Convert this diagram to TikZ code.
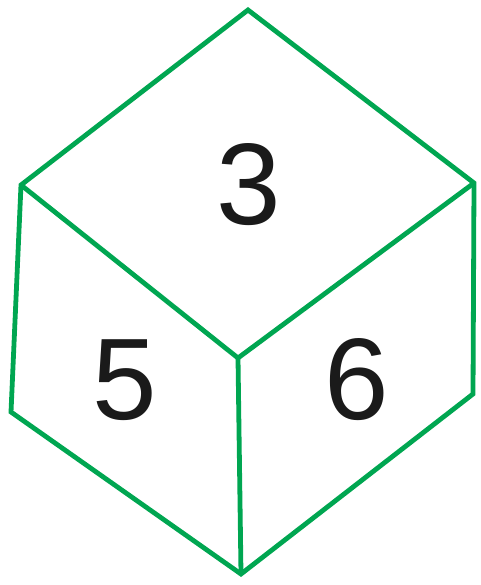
\documentclass[tikz,border=0pt]{standalone}
\usepackage{fontspec}
\setmainfont{Liberation Sans}
\definecolor{cubegreen}{RGB}{0,166,81}
\definecolor{digit}{RGB}{26,26,26}
\begin{document}
\begin{tikzpicture}[x=1pt,y=-1pt,
  edge/.style={draw=cubegreen,line width=4.8pt,line join=miter},
  face/.style={font=\fontsize{116}{116}\selectfont,text=digit,inner sep=0pt,anchor=center}]
\useasboundingbox (0,0) rectangle (480,585);
\coordinate (T) at (248,10);
\coordinate (LT) at (21,185);
\coordinate (RT) at (474,183);
\coordinate (C) at (238,358);
\coordinate (LB) at (11,412);
\coordinate (B) at (241,574);
\coordinate (RB) at (473,394);
\draw[edge] (T) -- (RT) -- (RB) -- (B) -- (LB) -- (LT) -- cycle;
\draw[edge] (LT) -- (C) -- (RT);
\draw[edge] (C) -- (B);
\node[face] (n3) at (248.5,185) {3};
\node[face] (n5) at (125,380.5) {5};
\node[face] (n6) at (357,380) {6};
\end{tikzpicture}
\end{document}
